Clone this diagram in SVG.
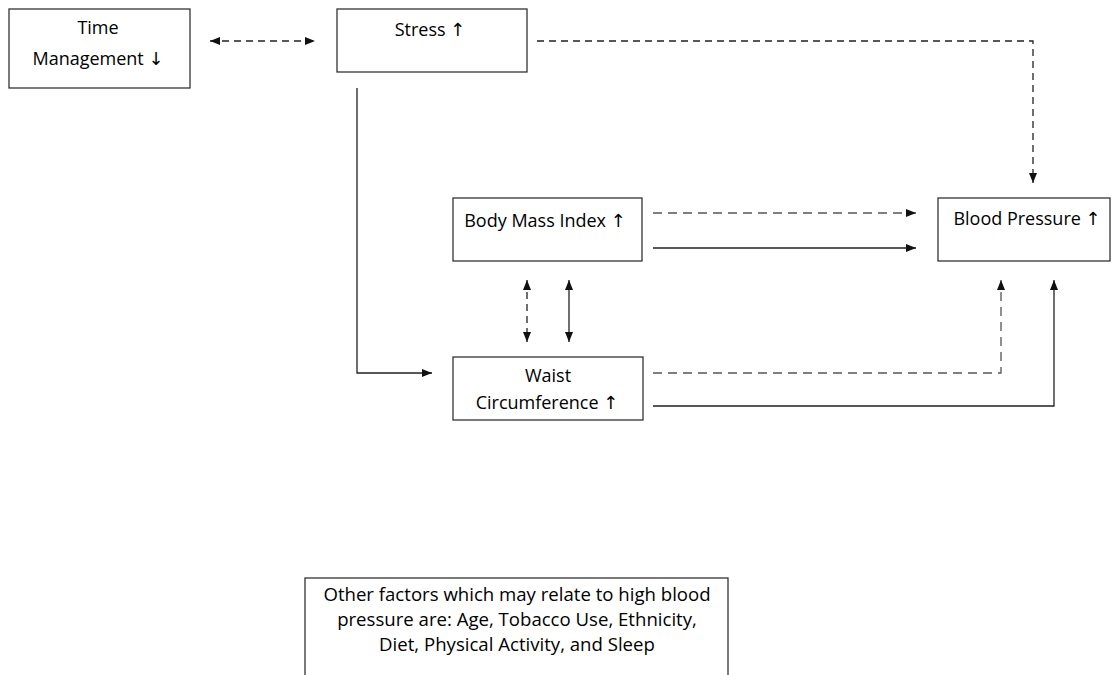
<svg xmlns="http://www.w3.org/2000/svg" width="1112" height="675" viewBox="0 0 1112 675">
<style>
.box{fill:#fff;stroke:#333;stroke-width:1.3}
.t{font-family:"Open Sans","DejaVu Sans",sans-serif;font-size:18px;fill:#000;text-anchor:middle}
.o{font-size:18.6px}
.c{fill:none;stroke:#222;stroke-width:1.3}
.d{fill:none;stroke:#555;stroke-width:1.3;stroke-dasharray:9 6}
.dk{fill:none;stroke:#222;stroke-width:1.3;stroke-dasharray:7 5}
</style>
<defs>
<marker id="ah" markerUnits="userSpaceOnUse" viewBox="0 0 10 8" refX="10" refY="4" markerWidth="10" markerHeight="8" orient="auto-start-reverse">
<path d="M0,0 L10,4 L0,8 Z" fill="#111"/>
</marker>
</defs>
<rect width="1112" height="675" fill="#fff"/>
<g id="time">
<rect class="box" x="9" y="9" width="181" height="79"/>
<text class="t" x="98" y="34">Time</text>
<text class="t" x="98" y="65">Management ↓</text>
</g>
<g id="stress">
<rect class="box" x="337" y="9" width="190" height="63"/>
<text class="t" x="430" y="36">Stress ↑</text>
</g>
<g id="bmi">
<rect class="box" x="453" y="198" width="189" height="63"/>
<text class="t" x="545" y="227">Body Mass Index ↑</text>
</g>
<g id="bp">
<rect class="box" x="938" y="198" width="172" height="63"/>
<text class="t" x="1027" y="225">Blood Pressure ↑</text>
</g>
<g id="waist">
<rect class="box" x="453" y="357" width="190" height="63"/>
<text class="t" x="548" y="382">Waist</text>
<text class="t" x="547" y="409">Circumference ↑</text>
</g>
<g id="other">
<rect class="box" x="305" y="578" width="423" height="120"/>
<text class="t o" x="517" y="601">Other factors which may relate to high blood</text>
<text class="t o" x="517" y="626">pressure are: Age, Tobacco Use, Ethnicity,</text>
<text class="t o" x="517" y="651">Diet, Physical Activity, and Sleep</text>
</g>
<g id="connectors">
<path class="dk" d="M210,41 H315" marker-start="url(#ah)" marker-end="url(#ah)"/>
<path class="dk" d="M537,41 H1033 V183" marker-end="url(#ah)"/>
<path class="c" d="M357,88 V373 H432" marker-end="url(#ah)"/>
<path class="d" d="M653,213 H916" marker-end="url(#ah)"/>
<path class="c" d="M653,248 H916" marker-end="url(#ah)"/>
<path class="dk" d="M527,280 V342" marker-start="url(#ah)" marker-end="url(#ah)"/>
<path class="c" d="M569,280 V342" marker-start="url(#ah)" marker-end="url(#ah)"/>
<path class="d" d="M653,373 H1001 V280" marker-end="url(#ah)"/>
<path class="c" d="M653,406 H1054 V280" marker-end="url(#ah)"/>
</g>
</svg>
